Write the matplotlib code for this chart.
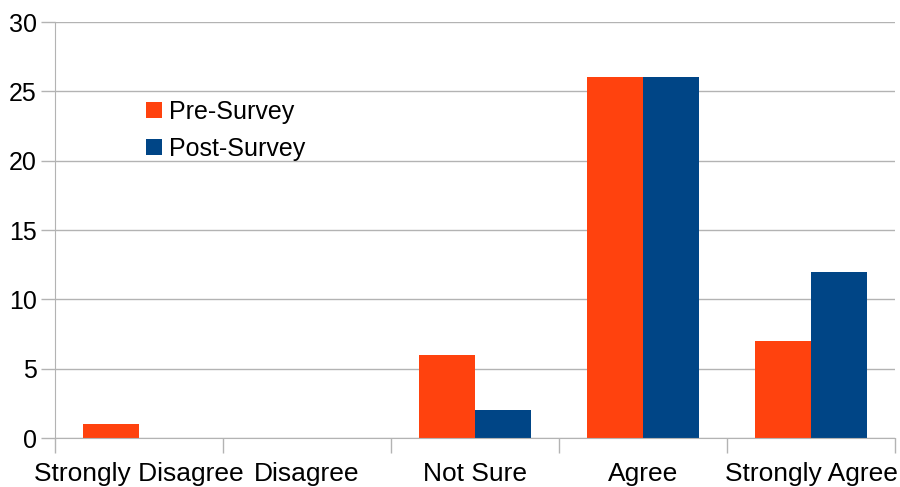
import matplotlib.pyplot as plt
import numpy as np

plt.rcParams['font.family'] = ['Liberation Sans', 'DejaVu Sans']

categories = ['Strongly Disagree', 'Disagree', 'Not Sure', 'Agree', 'Strongly Agree']
pre_survey = [1, 0, 6, 26, 7]
post_survey = [0, 0, 2, 26, 12]

orange = '#ff420e'
blue = '#004586'
grid = '#b3b3b3'

fig = plt.figure(figsize=(9, 4.87), dpi=100)
ax = fig.add_axes([55/900, 49/487, 840/900, 416/487])

x = np.arange(len(categories))
w = 1/3
ax.bar(x - w/2, pre_survey, w, color=orange, label='Pre-Survey')
ax.bar(x + w/2, post_survey, w, color=blue, label='Post-Survey')

ax.set_xlim(-0.5, len(categories) - 0.5)
ax.set_ylim(0, 30)
ax.set_yticks(range(0, 31, 5))
ax.yaxis.grid(True, color=grid, linewidth=1)
ax.set_axisbelow(True)

# category boundaries get the tick marks, labels sit in the middle
ax.set_xticks(np.arange(-0.5, len(categories)), minor=False)
ax.set_xticklabels([])
ax.set_xticks(x, minor=True)
ax.set_xticklabels(categories, minor=True)
ax.tick_params(axis='x', which='minor', length=0, pad=17, labelsize=19)
ax.tick_params(axis='x', which='major', length=11, color=grid, width=1)
ax.tick_params(axis='y', length=10, color=grid, width=1, pad=3, labelsize=18)

for s in ['top', 'right']:
    ax.spines[s].set_visible(False)
for s in ['left', 'bottom']:
    ax.spines[s].set_color(grid)

ax.legend(loc='upper left', bbox_to_anchor=(0.081, 0.867), frameon=False,
          fontsize=18, handlelength=0.65, handleheight=0.65, handletextpad=0.3,
          labelspacing=0.52)

fig.savefig('out.png', dpi=100)
